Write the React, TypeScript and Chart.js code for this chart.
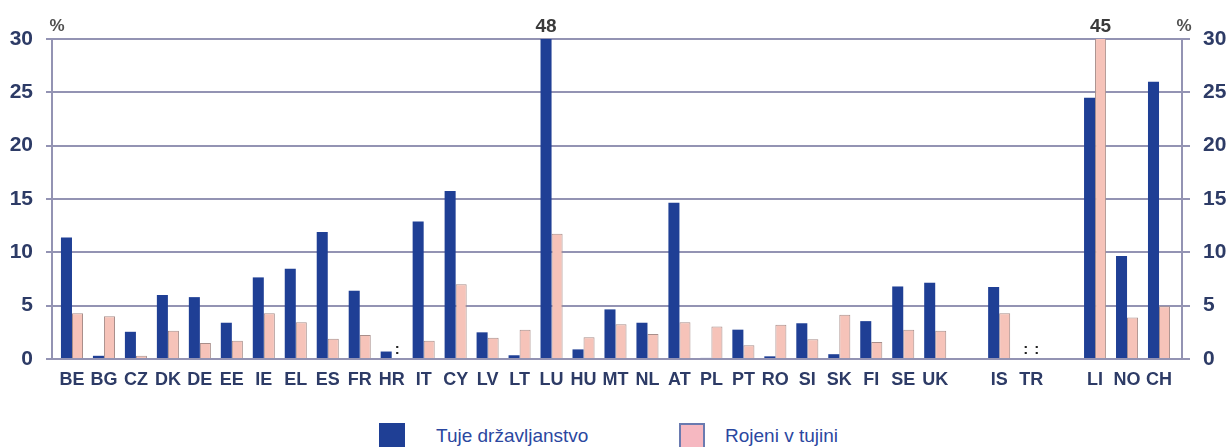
import React, { useEffect, useRef } from "react";
import { Chart, registerables } from "chart.js";

Chart.register(...registerables);

const categories = ["BE","BG","CZ","DK","DE","EE","IE","EL","ES","FR","HR","IT","CY","LV","LT","LU","HU","MT","NL","AT","PL","PT","RO","SI","SK","FI","SE","UK","","IS","TR","","LI","NO","CH"];
const foreignCitizens = [11.4,0.3,2.55,6.0,5.8,3.4,7.65,8.45,11.9,6.4,0.7,12.9,15.75,2.5,0.35,48,0.9,4.65,3.4,14.65,0.1,2.75,0.25,3.35,0.45,3.55,6.8,7.15,null,6.75,null,null,24.5,9.65,26.0];
const foreignBorn = [4.3,4.0,0.3,2.65,1.5,1.7,4.3,3.45,1.9,2.25,null,1.7,7.0,2.0,2.75,11.75,2.05,3.25,2.35,3.45,3.05,1.3,3.2,1.85,4.15,1.6,2.75,2.65,null,4.3,null,null,45,3.9,4.95];
const yTicks = [0, 5, 10, 15, 20, 25, 30];
const seriesNames = ["Tuje državljanstvo", "Rojeni v tujini"];

const BLUE = "#1f3f95";
const PINK = "#f6c3b9";
const GRID = "#9393b3";
const TICK = "#2d3b66";
const NARROW = '"Liberation Sans Narrow", "Liberation Sans", Arial, sans-serif';

const annotate = {
  id: "annotate",
  beforeDatasetsDraw(chart: any) {
    const { ctx, chartArea } = chart;
    ctx.save();
    ctx.strokeStyle = GRID;
    ctx.lineWidth = 2;
    ctx.beginPath();
    ctx.moveTo(52, chartArea.top);
    ctx.lineTo(52, chartArea.bottom);
    ctx.moveTo(1182, chartArea.top);
    ctx.lineTo(1182, chartArea.bottom);
    ctx.stroke();
    ctx.restore();
  },
  afterDraw(chart: any) {
    const { ctx, chartArea, scales } = chart;
    const yMax = scales.y.max;
    ctx.save();
    ctx.textAlign = "center";
    ctx.textBaseline = "alphabetic";
    ctx.fillStyle = "#3a3a3a";
    ctx.font = "bold 19px " + NARROW;
    chart.data.datasets.forEach((ds: any, di: number) => {
      const meta = chart.getDatasetMeta(di);
      ds.data.forEach((v: any, i: number) => {
        if (v !== null && v > yMax) {
          ctx.fillText(String(v), meta.data[i].x, chartArea.top - 7);
        }
      });
    });
    // percent signs
    ctx.font = "bold 17px " + NARROW;
    ctx.fillStyle = "#505050";
    ctx.fillText("%", 57, 31);
    ctx.fillText("%", 1184, 31);
    // missing values ":"
    ctx.font = "bold 15px Arial, sans-serif";
    ctx.fillStyle = "#222";
    chart.data.datasets.forEach((ds: any, di: number) => {
      ds.data.forEach((v: any, i: number) => {
        if (v === null && categories[i] !== "") {
          const cx = scales.x.getPixelForValue(i);
          const x = cx + (di === 0 ? -5.5 : 5.5);
          ctx.fillText(":", x, chartArea.bottom - 5);
        }
      });
    });
    ctx.restore();
  },
};

export default function App() {
  const ref = useRef<HTMLCanvasElement | null>(null);
  useEffect(() => {
    if (!ref.current) return;
    const chart = new Chart(ref.current, {
      type: "bar",
      data: {
        labels: categories,
        datasets: [
          {
            label: seriesNames[0],
            data: foreignCitizens as any,
            backgroundColor: BLUE,
            borderWidth: 0,
            barPercentage: 1,
            categoryPercentage: 0.69,
          },
          {
            label: seriesNames[1],
            data: foreignBorn as any,
            backgroundColor: PINK,
            borderColor: "#a88e8a",
            borderWidth: 1,
            barPercentage: 1,
            categoryPercentage: 0.69,
          },
        ],
      },
      options: {
        responsive: false,
        animation: false,
        layout: { padding: { top: 39, left: 0, right: 0, bottom: 0 } },
        plugins: { legend: { display: false }, tooltip: { enabled: false } },
        scales: {
          x: {
            grid: { display: false, drawTicks: false },
            border: { display: false },
            ticks: {
              color: TICK,
              font: { family: NARROW, size: 18, weight: "bold" },
              padding: 10,
              maxRotation: 0,
              autoSkip: false,
            },
            afterFit(scale: any) {
              scale.height = 41;
            },
          },
          y: {
            position: "left",
            min: 0,
            max: 30,
            afterBuildTicks(scale: any) {
              scale.ticks = yTicks.map((v) => ({ value: v }));
            },
            grid: { color: GRID, lineWidth: 2, tickLength: 10 },
            border: { display: false },
            ticks: {
              color: TICK,
              font: { family: NARROW, size: 21, weight: "bold" },
              padding: 13,
            },
            afterFit(scale: any) {
              scale.width = 56;
            },
          },
          y2: {
            position: "right",
            min: 0,
            max: 30,
            afterBuildTicks(scale: any) {
              scale.ticks = yTicks.map((v) => ({ value: v }));
            },
            grid: { color: GRID, lineWidth: 2, tickLength: 15, drawOnChartArea: false },
            border: { display: false },
            ticks: {
              color: TICK,
              font: { family: NARROW, size: 21, weight: "bold" },
              padding: 13,
            },
            afterFit(scale: any) {
              scale.width = 51;
            },
          },
        },
      } as any,
      plugins: [annotate],
    });
    return () => chart.destroy();
  }, []);

  return (
    <div
      style={{
        position: "fixed",
        left: 0,
        top: 0,
        width: 1226,
        height: 447,
        overflow: "hidden",
        background: "#fff",
      }}
    >
      <canvas ref={ref} width={1226} height={400} style={{ display: "block" }} />
      <div style={{ position: "absolute", left: 379, top: 423, width: 26, height: 26, background: BLUE }} />
      <div
        style={{
          position: "absolute",
          left: 436,
          top: 425,
          fontFamily: '"Liberation Sans", Arial, sans-serif',
          fontSize: 19,
          color: "#2b47a0",
          whiteSpace: "nowrap",
        }}
      >
        {seriesNames[0]}
      </div>
      <div
        style={{
          position: "absolute",
          left: 679,
          top: 423,
          width: 22,
          height: 24,
          background: "#f6b8c1",
          border: "2px solid #6a7ab0",
        }}
      />
      <div
        style={{
          position: "absolute",
          left: 725,
          top: 425,
          fontFamily: '"Liberation Sans", Arial, sans-serif',
          fontSize: 19,
          color: "#2b47a0",
          whiteSpace: "nowrap",
        }}
      >
        {seriesNames[1]}
      </div>
    </div>
  );
}
